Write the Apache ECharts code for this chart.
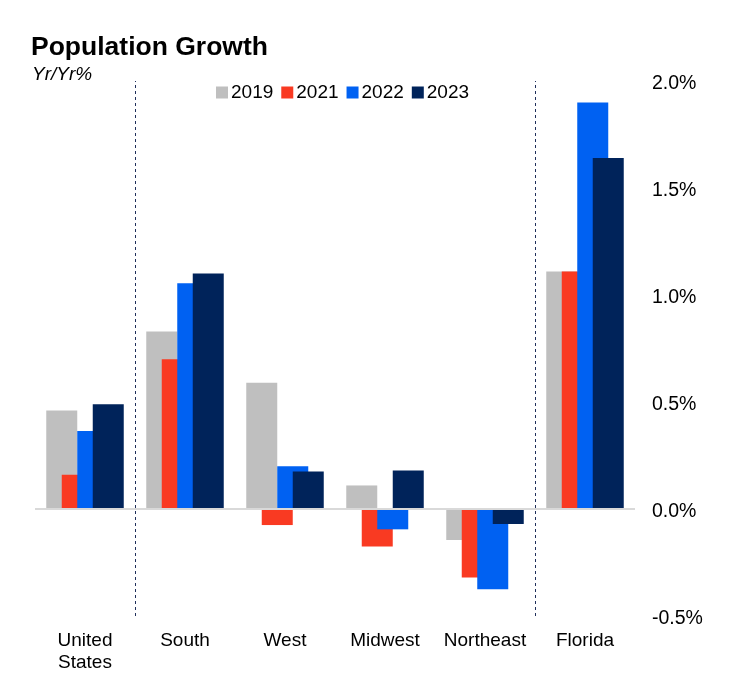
<!DOCTYPE html>
<html>
<head>
<meta charset="utf-8">
<script src="https://cdn.jsdelivr.net/npm/echarts@6/dist/echarts.min.js"></script>
<style>
    html, body { margin: 0; padding: 0; background: #fff; }
    #main { width: 742px; height: 682px; }
</style>
</head>
<body>
<div id="main"></div>
<script>
/* data */
var regions = ['United\nStates', 'South', 'West', 'Midwest', 'Northeast', 'Florida'];
var years = ['2019', '2021', '2022', '2023'];
var growth2019 = [0.46, 0.83, 0.59, 0.11, -0.145, 1.11];
var growth2021 = [0.16, 0.70, -0.075, -0.175, -0.32, 1.11];
var growth2022 = [0.365, 1.055, 0.20, -0.095, -0.375, 1.90];
var growth2023 = [0.49, 1.10, 0.175, 0.18, -0.07, 1.64];
var yTicks = [-0.5, 0, 0.5, 1.0, 1.5, 2.0];
var dividers = [1, 5];

var colors = ['#bfbfbf', '#f93a22', '#0061f2', '#00235a'];
var font = 'Liberation Sans, Arial, sans-serif';

(function () {
    'use strict';
    var chart = echarts.init(document.getElementById('main'));
    var values = [growth2019, growth2021, growth2022, growth2023];

    var series = years.map(function (y, i) {
        return {
            name: y,
            type: 'bar',
            barWidth: 31,
            barGap: '-50%',
            itemStyle: { color: colors[i] },
            data: values[i]
        };
    });

    /*分隔虚线*/
    series.push({
        type: 'line',
        xAxisIndex: 1,
        data: [],
        silent: true,
        markLine: {
            symbol: 'none',
            label: { show: false },
            lineStyle: { color: '#1f2f5a', type: [3, 3], width: 1 },
            data: dividers.map(function (d) { return { xAxis: d }; })
        }
    });

    /*零线*/
    series.push({
        type: 'line',
        data: [],
        silent: true,
        markLine: {
            symbol: 'none',
            label: { show: false },
            lineStyle: { color: '#d9d9d9', type: 'solid', width: 2 },
            data: [{ yAxis: 0 }]
        }
    });

    chart.setOption({
        animation: false,
        color: colors,
        title: [
            { text: 'Population Growth', left: 26, top: 29,
              textStyle: { fontFamily: font, fontSize: 26.5, fontWeight: 'bold', color: '#000' } },
            { text: 'Yr/Yr%', left: 27, top: 60,
              textStyle: { fontFamily: font, fontSize: 19, fontStyle: 'italic', fontWeight: 'normal', color: '#000' } }
        ],
        legend: {
            data: years,
            left: 211,
            top: 78,
            itemWidth: 12,
            itemHeight: 12,
            itemGap: 8,
            icon: 'rect',
            textStyle: { fontFamily: font, fontSize: 19, color: '#000', padding: [0, 0, 0, -2] }
        },
        grid: { left: 35, right: 107, top: 81, bottom: 66 },
        xAxis: [{
            type: 'category',
            data: regions,
            axisLine: { show: false },
            axisTick: { show: false },
            axisLabel: { fontFamily: font, fontSize: 19, color: '#000', margin: 14, lineHeight: 22, interval: 0 }
        }, {
            type: 'value',
            min: 0,
            max: 6,
            show: false
        }],
        yAxis: {
            type: 'value',
            position: 'right',
            min: yTicks[0],
            max: yTicks[yTicks.length - 1],
            interval: 0.5,
            axisLine: { show: false },
            axisTick: { show: false },
            splitLine: { show: false },
            axisLabel: {
                fontFamily: font, fontSize: 19.5, color: '#000', margin: 17, align: 'left',
                verticalAlign: 'top', lineHeight: 6,
                formatter: function (v) { return v.toFixed(1) + '%'; }
            }
        },
        series: series
    });
})();
</script>
</body>
</html>
